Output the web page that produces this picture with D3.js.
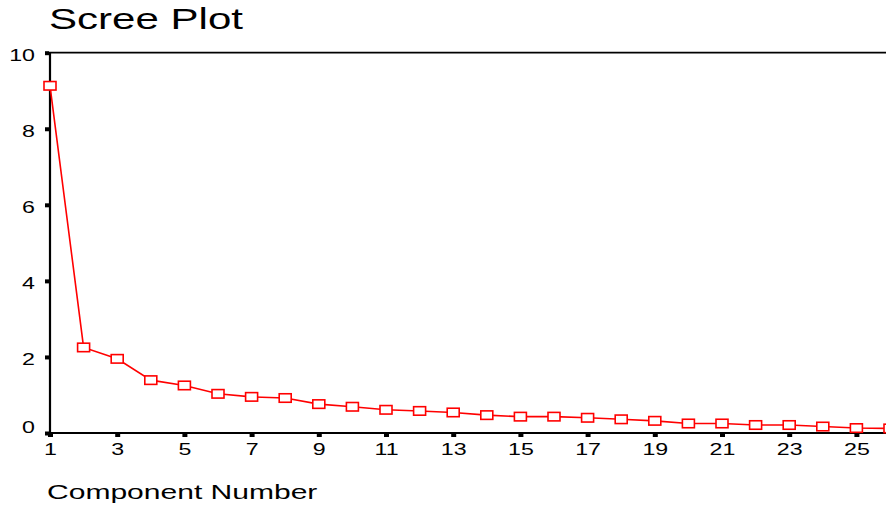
<!DOCTYPE html>
<html>
<head>
<meta charset="utf-8">
<script src="https://cdn.jsdelivr.net/npm/d3@7/dist/d3.min.js"></script>
<style>
  html, body { margin: 0; padding: 0; background: #fff; }
  svg { display: block; font-family: "Liberation Sans", Arial, sans-serif; }
</style>
</head>
<body>
<svg id="chart" width="886" height="509"></svg>
<script>
// Eigenvalues per extracted component
const components = [1,2,3,4,5,6,7,8,9,10,11,12,13,14,15,16,17,18,19,20,21,22,23,24,25,26];
const eigenvalues = [9.13,2.25,1.95,1.39,1.25,1.03,0.95,0.92,0.76,0.69,0.61,0.58,0.54,0.47,0.43,0.43,0.40,0.36,0.32,0.25,0.25,0.21,0.21,0.17,0.13,0.12];
const xTicks = [1,3,5,7,9,11,13,15,17,19,21,23,25];
const yTicks = [0,2,4,6,8,10];
const titleText = "Scree Plot";
const xTitleText = "Component Number";

const svg = d3.select("#chart");
const W = 886, H = 509;

const x = d3.scaleLinear().domain([1, 26]).range([50, 890]);
const y = d3.scaleLinear().domain([0, 10]).range([433, 52.7]);

const SX = 1.45; // wide glyph style

// Title
svg.append("text")
  .attr("transform", `translate(49,29) scale(${SX},1)`)
  .attr("font-size", 29)
  .attr("fill", "#000")
  .text(titleText);

// Axis title
svg.append("text")
  .attr("transform", `translate(47,499) scale(1.43,1)`)
  .attr("font-size", 21)
  .attr("fill", "#000")
  .text(xTitleText);

// Y axis
const yAxis = svg.append("g")
  .attr("transform", `translate(${x(1)},0)`)
  .call(d3.axisLeft(y).tickValues(yTicks).tickSize(4).tickFormat(d3.format("d")));
yAxis.select(".domain").remove();
yAxis.selectAll(".tick line").attr("stroke", "#000").attr("stroke-width", 4).attr("x1", -1).attr("x2", -5);
yAxis.selectAll(".tick text")
  .attr("x", null).attr("dy", null)
  .attr("font-size", 16).attr("fill", "#000").attr("text-anchor", "end")
  .attr("transform", d => `translate(-15,${d === 0 ? -1 : 7.5}) scale(${SX},1)`);

// X axis
const xAxis = svg.append("g")
  .attr("transform", `translate(0,${y(0)})`)
  .call(d3.axisBottom(x).tickValues(xTicks).tickSize(4).tickFormat(d3.format("d")));
xAxis.select(".domain").remove();
xAxis.selectAll(".tick line").attr("stroke", "#000").attr("stroke-width", 5).attr("y1", 0).attr("y2", 4);
xAxis.selectAll(".tick text")
  .attr("y", null).attr("dy", null)
  .attr("font-size", 16).attr("fill", "#000").attr("text-anchor", "middle")
  .attr("transform", `translate(0,22) scale(${SX},1)`);

// Frame lines: left axis, bottom axis, top edge
svg.append("line")
  .attr("x1", x(1)).attr("x2", x(1)).attr("y1", y(10)).attr("y2", y(0) + 1)
  .attr("stroke", "#000").attr("stroke-width", 2.2);
svg.append("line")
  .attr("x1", x(1) - 1).attr("x2", W).attr("y1", y(0)).attr("y2", y(0))
  .attr("stroke", "#000").attr("stroke-width", 2);
svg.append("line")
  .attr("x1", x(1) - 1).attr("x2", W).attr("y1", y(10)).attr("y2", y(10))
  .attr("stroke", "#000").attr("stroke-width", 1.8);

// Data line
const pts = components.map((c, i) => ({c, v: eigenvalues[i]}));
svg.append("path")
  .datum(pts)
  .attr("fill", "none")
  .attr("stroke", "#ff0000")
  .attr("stroke-width", 1.6)
  .attr("d", d3.line().x(d => x(d.c)).y(d => y(d.v)));

// Markers
const mw = 12, mh = 8.5;
svg.append("g").selectAll("rect")
  .data(pts)
  .join("rect")
  .attr("x", d => x(d.c) - mw / 2)
  .attr("y", d => y(d.v) - mh / 2)
  .attr("width", mw)
  .attr("height", mh)
  .attr("fill", "#fff")
  .attr("stroke", "#ff0000")
  .attr("stroke-width", 1.6);
</script>
</body>
</html>
